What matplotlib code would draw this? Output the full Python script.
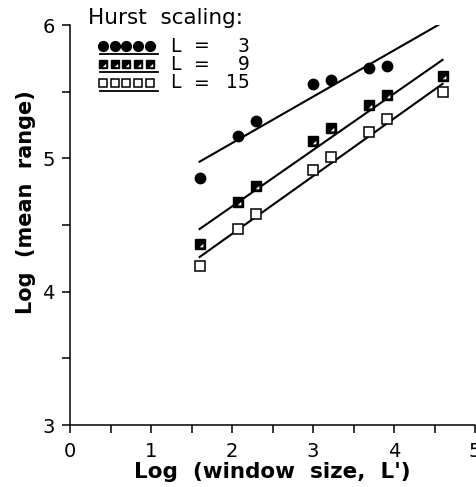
import matplotlib
matplotlib.use("Agg")
import matplotlib.pyplot as plt
import numpy as np
from matplotlib.path import Path
from matplotlib.ticker import MultipleLocator

plt.rcParams["font.family"] = ["DejaVu Sans"]

# log window size (same for every series, L=3 has no last point)
log_window = [1.61, 2.08, 2.30, 3.00, 3.22, 3.69, 3.91, 4.61]
range_L3 = [4.85, 5.17, 5.28, 5.555, 5.59, 5.675, 5.69]
range_L9 = [4.36, 4.67, 4.79, 5.13, 5.23, 5.40, 5.475, 5.62]
range_L15 = [4.195, 4.47, 4.58, 4.91, 5.01, 5.20, 5.295, 5.495]

# fitted lines
fit_slope = [0.348, 0.423, 0.433]
fit_icept = [4.418, 3.793, 3.567]
fit_span = [1.6, 4.6]

legend_labels = ["3", "9", "15"]

# half filled square: black square with a white corner
corner = Path(
    [(-1, -1), (1, 1), (0.6, -0.6), (0.6, 0.15), (-0.15, -0.6), (0.6, -0.6)],
    [Path.MOVETO, Path.MOVETO, Path.MOVETO, Path.LINETO, Path.LINETO, Path.CLOSEPOLY],
)


def draw_marks(ax, x, y, kind, ms=6.8, **kw):
    if kind == "circle":
        ax.plot(x, y, "o", ms=ms * 1.1, mfc="black", mec="black", **kw)
    elif kind == "half":
        ax.plot(x, y, "s", ms=ms, mfc="black", mec="black", mew=1.0, **kw)
        ax.plot(x, y, ls="none", marker=corner, ms=ms, mfc="white", mew=0, **kw)
    else:
        ax.plot(x, y, "s", ms=ms, mfc="white", mec="black", mew=1.1, **kw)


fig = plt.figure(figsize=(4.76, 4.87), dpi=100)
ax = fig.add_axes([70 / 476, 62 / 487, 405 / 476, 400 / 487])

xs = np.array(fit_span)
for s, b in zip(fit_slope, fit_icept):
    ax.plot(xs, s * xs + b, color="black", lw=1.5)

series = [(range_L3, "circle"), (range_L9, "half"), (range_L15, "open")]
for vals, kind in series:
    draw_marks(ax, log_window[: len(vals)], vals, kind, zorder=3)

ax.set_xlim(0, 5)
ax.set_ylim(3, 6)
ax.xaxis.set_major_locator(MultipleLocator(1))
ax.xaxis.set_minor_locator(MultipleLocator(0.5))
ax.yaxis.set_major_locator(MultipleLocator(1))
ax.yaxis.set_minor_locator(MultipleLocator(0.5))
ax.tick_params(which="both", direction="out", length=6, width=1.1, labelsize=14)
ax.tick_params(axis="x", pad=6)
ax.tick_params(axis="y", pad=5)
for side in ["top", "right"]:
    ax.spines[side].set_visible(False)
for side in ["left", "bottom"]:
    ax.spines[side].set_linewidth(1.1)

ax.set_xlabel("Log  (window  size,  L')", fontsize=15.5, fontweight="bold", labelpad=1)
ax.set_ylabel("Log  (mean  range)", fontsize=15, fontweight="bold")
ax.yaxis.set_label_coords(-0.085, 0.557)

# hand drawn legend
ax.text(0.044, 1.0175, "Hurst  scaling:", transform=ax.transAxes, fontsize=15.5,
        va="center", ha="left", clip_on=False)
mx = np.linspace(0.081, 0.198, 5)
rows = [0.9475, 0.9013, 0.855]
for (vals, kind), ry, lab in zip(series, rows, legend_labels):
    draw_marks(ax, mx, [ry] * 5, kind, ms=6.4, transform=ax.transAxes, clip_on=False)
    ax.plot([0.074, 0.217], [ry - 0.019] * 2, color="black", lw=1.3,
            transform=ax.transAxes)
    ax.text(0.247, ry, "L", transform=ax.transAxes, fontsize=13.5, va="center")
    ax.text(0.326, ry, "=", transform=ax.transAxes, fontsize=13.5, va="center", ha="center")
    ax.text(0.444, ry, lab, transform=ax.transAxes, fontsize=13.5, va="center", ha="right")

fig.savefig("out.png", dpi=100)
